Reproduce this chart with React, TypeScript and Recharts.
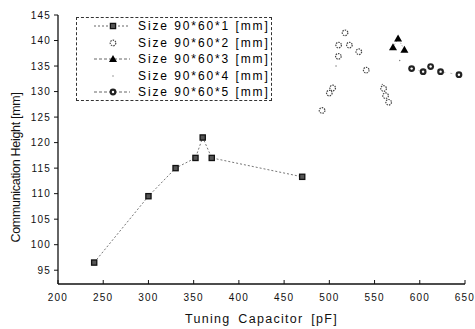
import React from 'react';
import { ScatterChart, Scatter, XAxis, YAxis, Legend } from 'recharts';

const SERIES_NAMES = [
  'Size 90*60*1 [mm]',
  'Size 90*60*2 [mm]',
  'Size 90*60*3 [mm]',
  'Size 90*60*4 [mm]',
  'Size 90*60*5 [mm]',
];

const S1_X = [240, 300, 330, 352, 360, 370, 470];
const S1_Y = [96.5, 109.5, 115, 117, 121, 117, 113.3];

const S2_X = [492, 500, 503.7, 510, 510.3, 517.4, 522.2, 532.6, 540.8, 560, 562.2, 565.6];
const S2_Y = [126.3, 129.7, 130.7, 136.9, 139.1, 141.5, 139.1, 137.8, 134.2, 130.6, 129.2, 127.9];

const S3_X = [570.4, 576, 583];
const S3_Y = [138.7, 140.4, 138.2];

const S4_X = [507.4, 558.6, 577.8];
const S4_Y = [135, 131.4, 136.1];

const S5_X = [591, 603.7, 612, 623, 643.3];
const S5_Y = [134.5, 133.9, 134.9, 133.9, 133.3];

const X_TICKS = [200, 250, 300, 350, 400, 450, 500, 550, 600, 650];
const Y_TICKS = [95, 100, 105, 110, 115, 120, 125, 130, 135, 140, 145];
const X_MINOR = Array.from({ length: 46 }, (_, i) => 200 + i * 10);
const Y_MINOR = Array.from({ length: 53 }, (_, i) => 93 + i);

const X_TITLE = 'Tuning Capacitor [pF]';
const Y_TITLE = 'Communication Height [mm]';

const zip = (xs: number[], ys: number[]) => xs.map((x, i) => ({ x, y: ys[i] }));

const FONT = '"Liberation Sans", Arial, sans-serif';
const INK = '#111';

type Kind = 'square' | 'circle' | 'triangle' | 'dot' | 'ring';

const Marker = ({ kind, cx, cy }: { kind: Kind; cx: number; cy: number }) => {
  if (kind === 'square')
    return <rect x={cx - 2.6} y={cy - 2.6} width={5.2} height={5.2} fill="#555" stroke="#111" strokeWidth={1.3} />;
  if (kind === 'circle')
    return <circle cx={cx} cy={cy} r={2.8} fill="#fff" stroke="#444" strokeWidth={1.2} strokeDasharray="1.5 1" />;
  if (kind === 'triangle')
    return <polygon points={`${cx},${cy - 4} ${cx - 4},${cy + 3} ${cx + 4},${cy + 3}`} fill="#000" />;
  if (kind === 'dot') return <circle cx={cx} cy={cy} r={0.7} fill="#777" />;
  return (
    <g>
      <circle cx={cx} cy={cy} r={3.4} fill="#222" />
      <circle cx={cx} cy={cy} r={1.2} fill="#fff" />
    </g>
  );
};

const SERIES: { name: string; data: { x: number; y: number }[]; kind: Kind; line: any; legendLine: string | null }[] = [
  { name: SERIES_NAMES[0], data: zip(S1_X, S1_Y), kind: 'square', line: { stroke: '#777', strokeWidth: 1, strokeDasharray: '2 2' }, legendLine: '2 2' },
  { name: SERIES_NAMES[1], data: zip(S2_X, S2_Y), kind: 'circle', line: false, legendLine: null },
  { name: SERIES_NAMES[2], data: zip(S3_X, S3_Y), kind: 'triangle', line: { stroke: '#888', strokeWidth: 1, strokeDasharray: '1 2' }, legendLine: '3 2' },
  { name: SERIES_NAMES[3], data: zip(S4_X, S4_Y), kind: 'dot', line: false, legendLine: null },
  { name: SERIES_NAMES[4], data: zip(S5_X, S5_Y), kind: 'ring', line: { stroke: '#bbb', strokeWidth: 1, strokeDasharray: '2 5' }, legendLine: '3 2' },
];

const renderLegend = () => (
  <div
    style={{
      border: '1px dashed #333',
      width: 196,
      height: 84,
      boxSizing: 'border-box',
      fontFamily: FONT,
      fontSize: 12,
      letterSpacing: 1.9,
      color: '#000',
      background: '#fff',
    }}
  >
    {SERIES.map((s) => (
      <div key={s.name} style={{ height: 16.5, display: 'flex', alignItems: 'center' }}>
        <svg width={61} height={16} style={{ flex: 'none' }}>
          {s.legendLine && (
            <line x1={17} x2={53} y1={8} y2={8} stroke="#666" strokeWidth={1} strokeDasharray={s.legendLine} />
          )}
          <Marker kind={s.kind} cx={36} cy={8} />
        </svg>
        <span style={{ whiteSpace: 'nowrap', lineHeight: '16px' }}>{s.name}</span>
      </div>
    ))}
  </div>
);

export default function App() {
  return (
    <div style={{ position: 'absolute', left: 0, top: 0, background: '#fff' }}>
      <ScatterChart width={475} height={329} margin={{ top: 15, right: 10, left: 0, bottom: 0 }}>
        <XAxis
          xAxisId="minor"
          type="number"
          dataKey="x"
          domain={[200, 650]}
          ticks={X_MINOR}
          tick={false}
          tickSize={-2}
          axisLine={false}
          tickLine={{ stroke: INK }}
          height={0}
          allowDataOverflow
        />
        <YAxis
          yAxisId="minor"
          type="number"
          dataKey="y"
          domain={[92.3, 145]}
          ticks={Y_MINOR}
          tick={false}
          tickSize={2}
          axisLine={false}
          tickLine={{ stroke: INK }}
          width={0}
          allowDataOverflow
        />
        <XAxis
          type="number"
          dataKey="x"
          domain={[200, 650]}
          ticks={X_TICKS}
          allowDataOverflow
          height={45}
          tickSize={-4}
          tickMargin={14}
          axisLine={{ stroke: INK, strokeWidth: 1.3 }}
          tickLine={{ stroke: INK }}
          tick={{ fontSize: 10, fill: INK, fontFamily: FONT, letterSpacing: 1.2 }}
          label={{
            content: ({ viewBox }: any) => (
              <text
                x={viewBox.x + viewBox.width / 2}
                y={viewBox.y + 39}
                textAnchor="middle"
                fontFamily={FONT}
                fontSize={12.5}
                letterSpacing={1.3}
                wordSpacing={3}
                fill={INK}
              >
                {X_TITLE}
              </text>
            ),
          }}
        />
        <YAxis
          type="number"
          dataKey="y"
          domain={[92.3, 145]}
          ticks={Y_TICKS}
          allowDataOverflow
          width={58}
          tickSize={4}
          tickMargin={3}
          axisLine={{ stroke: INK, strokeWidth: 1.3 }}
          tickLine={{ stroke: INK }}
          tick={{ fontSize: 10, fill: INK, fontFamily: FONT, letterSpacing: 1.2 }}
          label={{
            content: ({ viewBox }: any) => {
              const x = viewBox.x + 20;
              const y = viewBox.y + viewBox.height / 2 + 18;
              return (
                <text
                  x={x}
                  y={y}
                  transform={`rotate(-90, ${x}, ${y})`}
                  textAnchor="middle"
                  fontFamily={FONT}
                  fontSize={12.5}
                  letterSpacing={-0.3}
                  fill={INK}
                >
                  {Y_TITLE}
                </text>
              );
            },
          }}
        />
        <Legend
          layout="vertical"
          align="center"
          verticalAlign="middle"
          content={renderLegend}
          wrapperStyle={{ left: 76, top: 17, width: 196, height: 84 }}
        />
        {SERIES.map((s) => (
          <Scatter
            key={s.name}
            name={s.name}
            data={s.data}
            line={s.line}
            lineType="joint"
            isAnimationActive={false}
            shape={(p: any) => <Marker kind={s.kind} cx={p.cx} cy={p.cy} />}
          />
        ))}
      </ScatterChart>
    </div>
  );
}
